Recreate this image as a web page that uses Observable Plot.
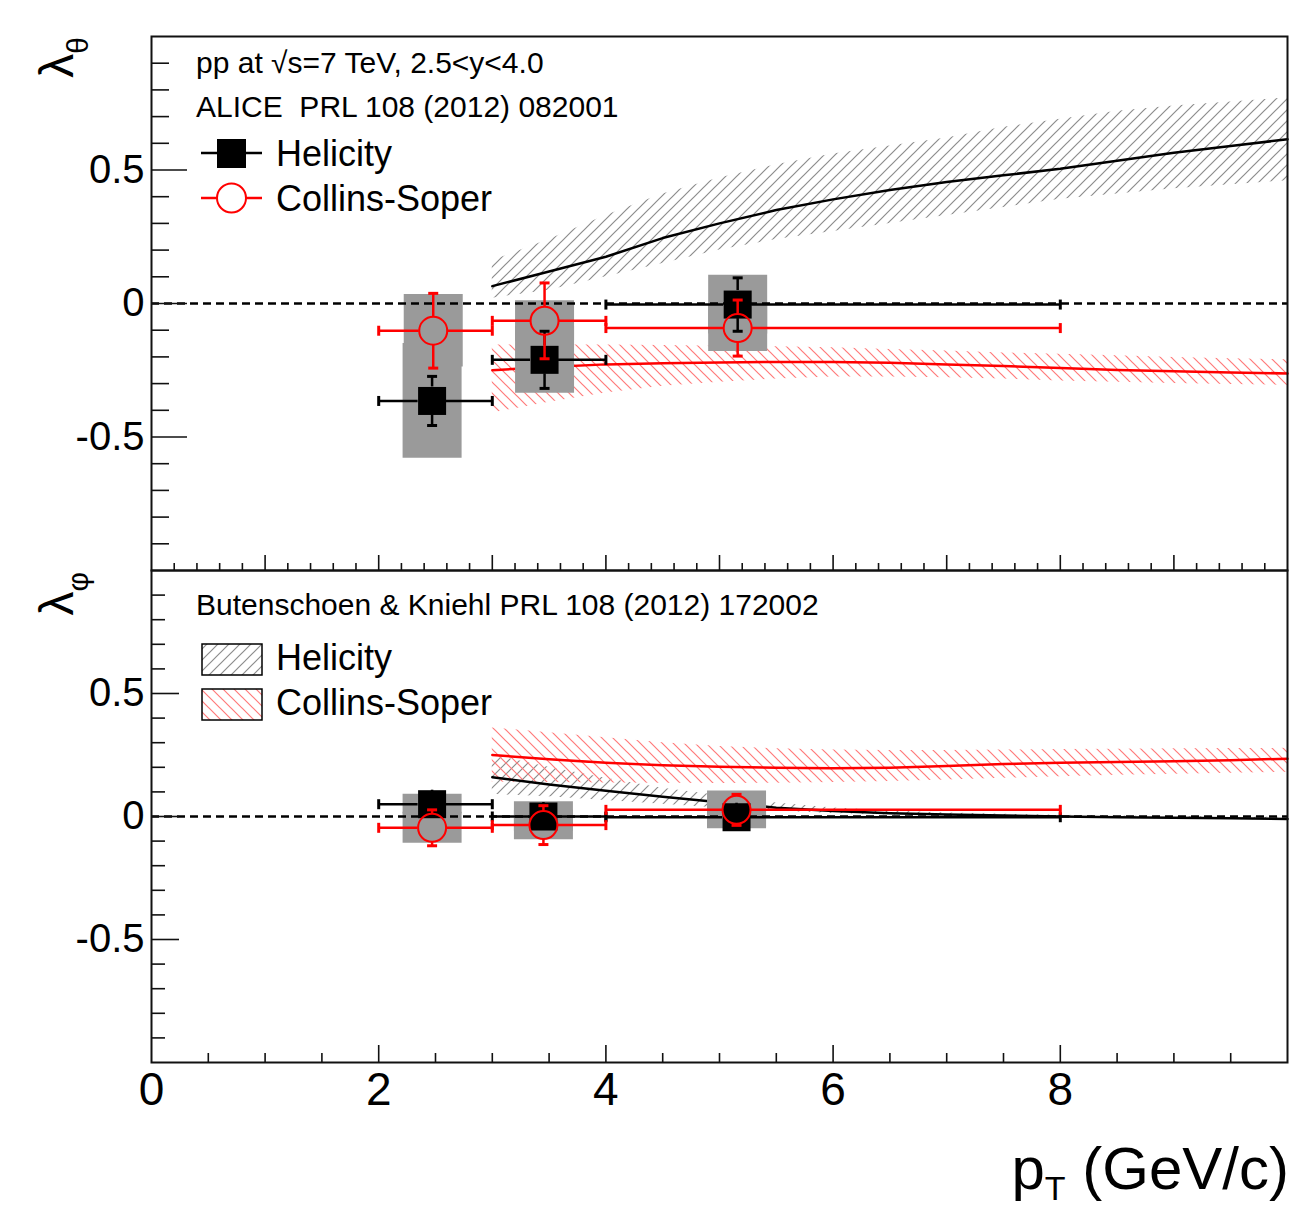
<!DOCTYPE html>
<html><head><meta charset="utf-8">
<script src="https://cdn.jsdelivr.net/npm/d3@7"></script>
<script src="https://cdn.jsdelivr.net/npm/@observablehq/plot@0.6"></script>
<style>
html,body{margin:0;padding:0;background:#fff;}
#wrap{position:relative;width:1301px;height:1209px;overflow:hidden;}
#wrap svg{position:absolute;left:0;}
</style></head><body><div id="wrap"></div>
<script>
// ---------- data ----------
const binLow = [2, 3, 4];
const binHigh = [3, 4, 8];

// lambda_theta (top panel), ALICE
const helThetaPt = [2.47, 3.46, 5.16];
const helThetaVal = [-0.365, -0.211, -0.004];
const helThetaStat = [0.092, 0.107, 0.10];
const helThetaSyst = [0.215, 0.125, 0.11];
const csThetaPt = [2.48, 3.46, 5.16];
const csThetaVal = [-0.102, -0.065, -0.092];
const csThetaStat = [0.14, 0.142, 0.105];
const csThetaSyst = [0.136, 0.075, 0.088];

// lambda_phi (bottom panel), ALICE
const helPhiPt = [2.47, 3.45, 5.15];
const helPhiVal = [0.05, 0.0, -0.003];
const helPhiStat = [0.02, 0.02, 0.02];
const helPhiSyst = [0.04, 0.06, 0.045];
const csPhiPt = [2.47, 3.45, 5.15];
const csPhiVal = [-0.046, -0.035, 0.027];
const csPhiStat = [0.073, 0.079, 0.063];
const csPhiSyst = [0.063, 0.06, 0.077];

// NLO NRQCD, Butenschoen & Kniehl
const theoryPt = [3, 3.5, 4, 4.5, 5, 5.5, 6, 6.5, 7, 7.5, 8, 8.5, 9, 9.5, 10];
const thHelTheta   = [0.065, 0.12, 0.175, 0.245, 0.30, 0.35, 0.39, 0.425, 0.455, 0.48, 0.505, 0.535, 0.565, 0.59, 0.615];
const thHelThetaUp = [0.16, 0.24, 0.33, 0.41, 0.47, 0.52, 0.56, 0.59, 0.62, 0.66, 0.69, 0.72, 0.74, 0.755, 0.77];
const thHelThetaLo = [0.02, 0.05, 0.10, 0.15, 0.20, 0.24, 0.27, 0.30, 0.33, 0.36, 0.39, 0.41, 0.43, 0.445, 0.46];
const thCsTheta    = [-0.25, -0.238, -0.228, -0.224, -0.221, -0.219, -0.219, -0.222, -0.228, -0.234, -0.242, -0.249, -0.254, -0.258, -0.262];
const thCsThetaUp  = [-0.155, -0.155, -0.155, -0.157, -0.16, -0.162, -0.166, -0.172, -0.178, -0.185, -0.19, -0.196, -0.202, -0.207, -0.211];
const thCsThetaLo  = [-0.41, -0.37, -0.335, -0.31, -0.295, -0.283, -0.275, -0.275, -0.278, -0.283, -0.29, -0.295, -0.30, -0.303, -0.306];
const thHelPhi     = [0.16, 0.13, 0.105, 0.08, 0.058, 0.036, 0.022, 0.013, 0.008, 0.004, 0.0, -0.003, -0.005, -0.007, -0.01];
const thHelPhiUp   = [0.25, 0.2, 0.155, 0.115, 0.085, 0.055, 0.035, 0.022, 0.014, 0.009, 0.005, 0.002, 0.0, -0.002, -0.004];
const thHelPhiLo   = [0.09, 0.08, 0.065, 0.05, 0.035, 0.022, 0.012, 0.006, 0.003, 0.0, -0.004, -0.007, -0.01, -0.012, -0.015];
const thCsPhi      = [0.25, 0.233, 0.218, 0.208, 0.202, 0.198, 0.196, 0.198, 0.205, 0.213, 0.218, 0.222, 0.225, 0.229, 0.235];
const thCsPhiUp    = [0.36, 0.34, 0.32, 0.30, 0.285, 0.275, 0.27, 0.268, 0.268, 0.27, 0.272, 0.273, 0.275, 0.276, 0.277];
const thCsPhiLo    = [0.14, 0.138, 0.136, 0.135, 0.134, 0.135, 0.138, 0.142, 0.148, 0.155, 0.162, 0.168, 0.172, 0.176, 0.18];

// tick labels
const xTickLabels = [0, 2, 4, 6, 8];
const yTickLabels = [-0.5, 0, 0.5];

// ---------- helpers ----------
const FONT = "'Liberation Sans', Arial, Helvetica, sans-serif";
const RED = "#ff0000";
const GRAY = "#9a9a9a";
const W = 1301, LEFT = 151, RIGHT = 14;
const innerW = W - LEFT - RIGHT;

const rows = (pt, val, stat, syst) => pt.map((p, i) => ({pt: p, y: val[i], stat: stat[i], syst: syst[i], lo: binLow[i], hi: binHigh[i]}));
const band = (c, up, lo) => theoryPt.map((p, i) => ({pt: p, c: c[i], up: up[i], lo: lo[i]}));

const hCap = {draw(ctx, size) { const w = Math.sqrt(size / Math.PI); ctx.moveTo(-w, 0); ctx.lineTo(w, 0); }};
const vCap = {draw(ctx, size) { const w = Math.sqrt(size / Math.PI); ctx.moveTo(0, -w); ctx.lineTo(0, w); }};

function errMarks(data, color) {
  const sw = 2.5, gap = 14;
  const capOpts = {r: 5, stroke: color, strokeWidth: 3, fill: "none"};
  return [
    Plot.ruleX(data, {x: "pt", y1: d => d.y + d.stat, y2: "y", insetBottom: gap, stroke: color, strokeWidth: sw}),
    Plot.ruleX(data, {x: "pt", y1: "y", y2: d => d.y - d.stat, insetTop: gap, stroke: color, strokeWidth: sw}),
    Plot.ruleY(data, {y: "y", x1: "lo", x2: "pt", insetRight: gap, stroke: color, strokeWidth: sw}),
    Plot.ruleY(data, {y: "y", x1: "pt", x2: "hi", insetLeft: gap, stroke: color, strokeWidth: sw}),
    Plot.dot(data, {x: "pt", y: d => d.y + d.stat, symbol: hCap, ...capOpts}),
    Plot.dot(data, {x: "pt", y: d => d.y - d.stat, symbol: hCap, ...capOpts}),
    Plot.dot(data, {x: "lo", y: "y", symbol: vCap, ...capOpts}),
    Plot.dot(data, {x: "hi", y: "y", symbol: vCap, ...capOpts})
  ];
}

function hatchDefs(prefix) {
  return () => {
    const defs = d3.create("svg:defs");
    const s = 11;
    const p1 = defs.append("pattern").attr("id", prefix + "hel").attr("patternUnits", "userSpaceOnUse").attr("width", s).attr("height", s);
    p1.append("path").attr("d", `M-2,2 L2,-2 M0,${s} L${s},0 M${s-2},${s+2} L${s+2},${s-2}`).attr("stroke", "#8c8c8c").attr("stroke-width", 1.2).attr("fill", "none");
    const p2 = defs.append("pattern").attr("id", prefix + "cs").attr("patternUnits", "userSpaceOnUse").attr("width", s).attr("height", s);
    p2.append("path").attr("d", `M-2,${s-2} L2,${s+2} M0,0 L${s},${s} M${s-2},-2 L${s+2},2`).attr("stroke", "#ff7a7a").attr("stroke-width", 1.2).attr("fill", "none");
    return defs.node();
  };
}

function yTitle(main, sub, yEnd) {
  return () => {
    const t = d3.create("svg:text")
      .attr("transform", `translate(73,${yEnd}) rotate(-90)`)
      .attr("text-anchor", "end").attr("font-family", FONT).attr("font-size", 48).attr("fill", "#000");
    t.append("tspan").text(main);
    t.append("tspan").attr("font-size", 30).attr("dy", 15).text(sub);
    return t.node();
  };
}

function tickMarks(innerH, xMajor, xMinor, xMajLen, xMinLen, yMajLen, yMinLen) {
  const yAll = d3.range(-9, 10).map(k => k / 10);
  const yMajor = yAll.filter(v => Math.abs(v * 2 - Math.round(v * 2)) < 1e-9);
  const yMinor = yAll.filter(v => !yMajor.includes(v));
  const s = {stroke: "#111", strokeWidth: 1.6};
  return [
    Plot.ruleX(xMajor, {x: d => d, insetTop: innerH - xMajLen, ...s}),
    Plot.ruleX(xMinor, {x: d => d, insetTop: innerH - xMinLen, ...s}),
    Plot.ruleY(yMajor, {y: d => d, insetRight: innerW - yMajLen, ...s}),
    Plot.ruleY(yMinor, {y: d => d, insetRight: innerW - yMinLen, ...s})
  ];
}

const yLabelMark = () => Plot.text(yTickLabels, {
  y: d => d, frameAnchor: "left", dx: -7, textAnchor: "end",
  text: d => d === 0 ? "0" : String(d), fontSize: 40, fontFamily: FONT, fill: "#000"
});

function panelMarks(prefix, hel, cs, thHel, thCs) {
  return [
    hatchDefs(prefix),
    Plot.areaY(thHel, {x: "pt", y1: "lo", y2: "up", fill: `url(#${prefix}hel)`}),
    Plot.areaY(thCs, {x: "pt", y1: "lo", y2: "up", fill: `url(#${prefix}cs)`}),
    Plot.line(thHel, {x: "pt", y: "c", stroke: "#000", strokeWidth: 2.5}),
    Plot.line(thCs, {x: "pt", y: "c", stroke: RED, strokeWidth: 2.5}),
    Plot.ruleX(hel, {x: "pt", y1: d => d.y + d.syst, y2: d => d.y - d.syst, stroke: GRAY, strokeWidth: 59, strokeLinecap: "butt"}),
    Plot.ruleX(cs, {x: "pt", y1: d => d.y + d.syst, y2: d => d.y - d.syst, stroke: GRAY, strokeWidth: 59, strokeLinecap: "butt"}),
    Plot.ruleY([0], {stroke: "#000", strokeWidth: 2.4, strokeDasharray: "8,5"}),
    ...errMarks(hel, "#000"),
    Plot.dot(hel, {x: "pt", y: "y", symbol: "square", r: 15.8, fill: "#000", stroke: "none"}),
    ...errMarks(cs, RED),
    Plot.dot(cs, {x: "pt", y: "y", r: 14, fill: "none", stroke: RED, strokeWidth: 2}),
    Plot.frame({stroke: "#111", strokeWidth: 2})
  ];
}

const wrap = document.getElementById("wrap");

// ---------- top panel ----------
const TOP_H = 575, TOP_MT = 36, TOP_MB = 5;
const topInner = TOP_H - TOP_MT - TOP_MB;
const topXMajor = d3.range(1, 10);
const topXMinor = d3.range(1, 50).map(k => k / 5).filter(v => Math.abs(v - Math.round(v)) > 1e-9);

function legendTop() {
  const g = d3.create("svg:g").attr("font-family", FONT).attr("fill", "#000").attr("text-anchor", "start");
  g.append("text").attr("x", 196).attr("y", 73).attr("font-size", 30).text("pp at \u221As=7 TeV, 2.5<y<4.0");
  g.append("text").attr("x", 196).attr("y", 117).attr("font-size", 30).text("ALICE  PRL 108 (2012) 082001");
  g.append("line").attr("x1", 201).attr("x2", 262).attr("y1", 153).attr("y2", 153).attr("stroke", "#000").attr("stroke-width", 2.5);
  g.append("rect").attr("x", 217).attr("y", 139).attr("width", 29).attr("height", 29).attr("fill", "#000");
  g.append("text").attr("x", 276).attr("y", 166).attr("font-size", 36).text("Helicity");
  g.append("line").attr("x1", 201).attr("x2", 217).attr("y1", 198).attr("y2", 198).attr("stroke", RED).attr("stroke-width", 2.5);
  g.append("line").attr("x1", 246).attr("x2", 262).attr("y1", 198).attr("y2", 198).attr("stroke", RED).attr("stroke-width", 2.5);
  g.append("circle").attr("cx", 231.5).attr("cy", 198).attr("r", 14.5).attr("fill", "none").attr("stroke", RED).attr("stroke-width", 2);
  g.append("text").attr("x", 276).attr("y", 211).attr("font-size", 36).text("Collins-Soper");
  return g.node();
}

const topPlot = Plot.plot({
  width: W, height: TOP_H,
  marginLeft: LEFT, marginRight: RIGHT, marginTop: TOP_MT, marginBottom: TOP_MB,
  x: {domain: [0, 10], axis: null},
  y: {domain: [-1, 1], axis: null},
  style: {background: "transparent", overflow: "visible", fontFamily: FONT},
  marks: [
    ...panelMarks("top",
      rows(helThetaPt, helThetaVal, helThetaStat, helThetaSyst),
      rows(csThetaPt, csThetaVal, csThetaStat, csThetaSyst),
      band(thHelTheta, thHelThetaUp, thHelThetaLo),
      band(thCsTheta, thCsThetaUp, thCsThetaLo)),
    ...tickMarks(topInner, topXMajor, topXMinor, 15, 7, 36, 18),
    yLabelMark(),
    yTitle("\u03BB", "\u03B8", 37),
    legendTop
  ]
});
topPlot.style.top = "0px";
wrap.appendChild(topPlot);

// ---------- bottom panel ----------
const BOT_OFF = 565, BOT_H = 644, BOT_MT = 5, BOT_MB = 147;
const botInner = BOT_H - BOT_MT - BOT_MB;
const botXMajor = [2, 4, 6, 8];
const botXMinor = d3.range(1, 20).map(k => k / 2).filter(v => !botXMajor.includes(v));

function legendBottom() {
  const o = BOT_OFF;
  const g = d3.create("svg:g").attr("font-family", FONT).attr("fill", "#000").attr("text-anchor", "start");
  g.append("text").attr("x", 196).attr("y", 615 - o).attr("font-size", 30).text("Butenschoen & Kniehl PRL 108 (2012) 172002");
  g.append("rect").attr("x", 202).attr("y", 644 - o).attr("width", 60).attr("height", 31)
    .attr("fill", "url(#bothel)").attr("stroke", "#000").attr("stroke-width", 1.5);
  g.append("text").attr("x", 276).attr("y", 670 - o).attr("font-size", 36).text("Helicity");
  g.append("rect").attr("x", 202).attr("y", 689 - o).attr("width", 60).attr("height", 31)
    .attr("fill", "url(#botcs)").attr("stroke", "#000").attr("stroke-width", 1.5);
  g.append("text").attr("x", 276).attr("y", 715 - o).attr("font-size", 36).text("Collins-Soper");
  // x-axis title
  const t = g.append("text").attr("x", 1289).attr("y", 1189 - o).attr("text-anchor", "end").attr("font-size", 60);
  t.append("tspan").text("p");
  t.append("tspan").attr("font-size", 34).attr("dy", 11).text("T");
  t.append("tspan").attr("dy", -11).text(" (GeV/c)");
  return g.node();
}

const botPlot = Plot.plot({
  width: W, height: BOT_H,
  marginLeft: LEFT, marginRight: RIGHT, marginTop: BOT_MT, marginBottom: BOT_MB,
  x: {domain: [0, 10], axis: null},
  y: {domain: [-1, 1], axis: null},
  style: {background: "transparent", overflow: "visible", fontFamily: FONT},
  marks: [
    ...panelMarks("bot",
      rows(helPhiPt, helPhiVal, helPhiStat, helPhiSyst),
      rows(csPhiPt, csPhiVal, csPhiStat, csPhiSyst),
      band(thHelPhi, thHelPhiUp, thHelPhiLo),
      band(thCsPhi, thCsPhiUp, thCsPhiLo)),
    ...tickMarks(botInner, botXMajor, botXMinor, 17, 9, 28, 14),
    yLabelMark(),
    Plot.text(xTickLabels, {x: d => d, frameAnchor: "bottom", dy: 10, lineAnchor: "top", text: d => String(d), fontSize: 46, fontFamily: FONT, fill: "#000"}),
    yTitle("\u03BB", "\u03C6", 572 - BOT_OFF),
    legendBottom
  ]
});
botPlot.style.top = BOT_OFF + "px";
wrap.appendChild(botPlot);
</script></body></html>
